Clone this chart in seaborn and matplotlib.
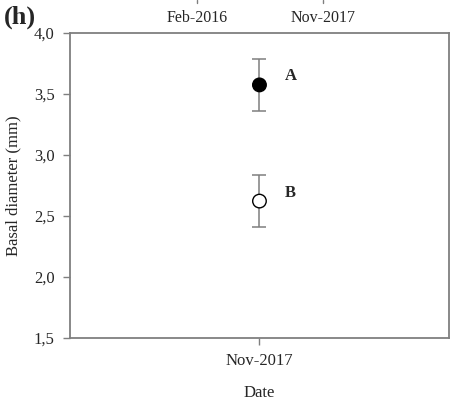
import matplotlib
matplotlib.use("Agg")
import matplotlib.pyplot as plt
from matplotlib.lines import Line2D
import seaborn as sns
import pandas as pd

# Basal diameter at the Nov-2017 survey, two treatment groups
dates = ["Nov-2017"]
groups = ["A", "B"]
means = [3.575, 2.623]
sds = [0.212, 0.212]
fills = ["black", "white"]
top_dates = ["Feb-2016", "Nov-2017"]
y_ticks = [1.5, 2.0, 2.5, 3.0, 3.5, 4.0]

df = pd.DataFrame({"date": dates * len(groups), "group": groups,
                   "mean": means, "sd": sds})
df["pos"] = df["date"].map({d: i for i, d in enumerate(dates)})

sns.set_style("ticks")
plt.rcParams["font.family"] = ["Liberation Serif", "DejaVu Serif"]

fig = plt.figure(figsize=(4.54, 4.03), dpi=100)
ax = fig.add_axes([0.154, 0.161, 0.835, 0.757])

grey = "#7f7f7f"
ax.errorbar(df["pos"], df["mean"], yerr=df["sd"], fmt="none",
            ecolor=grey, elinewidth=1.1, capsize=5, capthick=1.1, zorder=2)
sns.scatterplot(data=df, x="pos", y="mean", hue="group",
                palette=dict(zip(groups, fills)), edgecolor="black",
                linewidth=1.0, s=95, legend=False, ax=ax, zorder=3)

for _, r in df.iterrows():
    ax.annotate(r["group"], (r["pos"], r["mean"] + 0.07), xytext=(18, 0),
                textcoords="offset points", fontsize=12, fontweight="bold",
                va="center", ha="left")

ax.set_xlim(-1, 1)
ax.set_ylim(1.5, 4.0)
ax.set_xticks(range(len(dates)))
ax.set_xticklabels(dates, fontsize=12)
ax.set_yticks(y_ticks)
ax.set_yticklabels([f"{v:.1f}".replace(".", ",") for v in y_ticks], fontsize=12)
ax.set_xlabel("Date", fontsize=12, labelpad=11)
ax.set_ylabel("Basal diameter (mm)", fontsize=12, labelpad=9)

for s in ax.spines.values():
    s.set_color(grey)
    s.set_linewidth(1.3)
ax.tick_params(axis="both", direction="out", color=grey, length=5,
               width=1.0, pad=6)

# Panel letter and the date labels of the panel above
fig.text(0.008, 0.928, "(h)", fontsize=19, fontweight="bold", ha="left", va="bottom")
for xf, lab in zip([197 / 454, 323 / 454], top_dates):
    fig.text(xf, 0.956, lab, fontsize=11.5, ha="center", va="center")
    fig.add_artist(Line2D([xf, xf], [0.993, 1.0], color=grey, lw=1.0))

fig.savefig("out.png", dpi=100)
